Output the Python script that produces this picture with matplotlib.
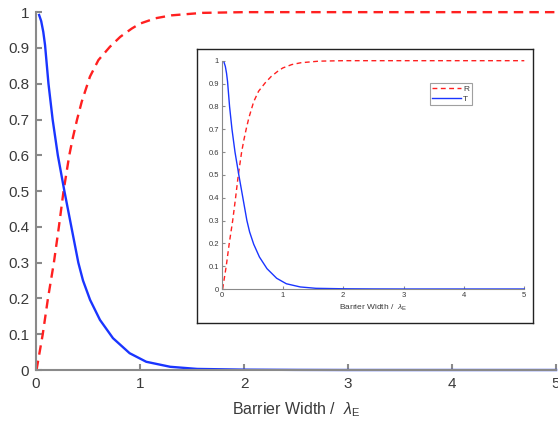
import matplotlib
matplotlib.use('Agg')
import matplotlib.pyplot as plt

plt.rcParams['font.family'] = ['Liberation Sans', 'DejaVu Sans']
plt.rcParams['mathtext.fontset'] = 'custom'
plt.rcParams['mathtext.rm'] = 'Liberation Sans'
plt.rcParams['mathtext.it'] = 'Liberation Sans:italic'

# transmission T vs barrier width (units of lambda_E)
x_T = [0.03, 0.05, 0.07, 0.087, 0.12, 0.16, 0.21, 0.273, 0.34, 0.407, 0.452, 0.52,
       0.615, 0.74, 0.9, 1.06, 1.29, 1.55, 2.0, 2.5, 3.0, 4.0, 5.0]
T = [0.992, 0.975, 0.945, 0.908, 0.80, 0.70, 0.60, 0.50, 0.40, 0.30, 0.25, 0.196,
     0.14, 0.089, 0.047, 0.023, 0.009, 0.003, 0.001, 0.0003, 0.0, 0.0, 0.0]

# reflection R
x_R = [0.005, 0.065, 0.115, 0.172, 0.22, 0.265, 0.32, 0.355, 0.395, 0.44, 0.519,
       0.6, 0.71, 0.81, 0.92, 1.0, 1.15, 1.3, 1.6, 2.0, 3.0, 4.0, 5.0]
R = [0.0, 0.10, 0.20, 0.30, 0.40, 0.50, 0.60, 0.65, 0.70, 0.75, 0.82,
     0.866, 0.903, 0.931, 0.954, 0.968, 0.983, 0.991, 0.998, 1.0, 1.0, 1.0, 1.0]

xticks = [0, 1, 2, 3, 4, 5]
yticks = [0, 0.1, 0.2, 0.3, 0.4, 0.5, 0.6, 0.7, 0.8, 0.9, 1]
ylabels = ['0', '0.1', '0.2', '0.3', '0.4', '0.5', '0.6', '0.7', '0.8', '0.9', '1']

red = '#ff2020'
blue = '#1a35ff'
spine_grey = '#8a8a8a'
txt = '#3a3a3a'
xlabel = 'Barrier Width /  $\\lambda_{\\mathrm{E}}$'


def style_axes(ax, fs, lw, ticklen, pad):
    for s in ['top', 'right']:
        ax.spines[s].set_visible(False)
    for s in ['left', 'bottom']:
        ax.spines[s].set_color(spine_grey)
        ax.spines[s].set_linewidth(lw)
    ax.set_xlim(0, 5)
    ax.set_ylim(0, 1)
    ax.set_xticks(xticks)
    ax.set_yticks(yticks)
    ax.set_yticklabels(ylabels)
    ax.tick_params(direction='in', length=ticklen, width=lw, color=spine_grey,
                   labelsize=fs, labelcolor=txt, pad=pad)


fig = plt.figure(figsize=(5.58, 4.25), dpi=100)

# main axes
ax = fig.add_axes([0.0645, 0.1294, 0.932, 0.842])
ax.plot(x_R, R, '--', color=red, lw=1.7, dashes=(4, 2.6), clip_on=False)
ax.plot(x_T, T, '-', color=blue, lw=1.7, clip_on=False)
style_axes(ax, 11, 1.5, 4, 5)
ax.set_xlabel(xlabel, fontsize=11.5, color=txt, labelpad=7)
ax.set_facecolor('none')

# inset frame
frame = fig.add_axes([0.3525, 0.2393, 0.6022, 0.6447])
frame.set_xticks([])
frame.set_yticks([])
for s in frame.spines.values():
    s.set_color('#222222')
    s.set_linewidth(1.0)
frame.set_facecolor('white')

# inset axes
ins = fig.add_axes([0.3984, 0.32, 0.5412, 0.5372])
ins.plot(x_R, R, '--', color=red, lw=1.0, dashes=(3.5, 2.5), label='R', clip_on=False)
ins.plot(x_T, T, '-', color=blue, lw=1.0, label='T', clip_on=False)
style_axes(ins, 5.5, 0.8, 2.5, 2.5)
ins.set_xlabel(xlabel, fontsize=6, color=txt, labelpad=2.5)
ins.set_facecolor('none')
leg = ins.legend(loc='upper left', bbox_to_anchor=(430 / 558, 1 - 83 / 425),
                 bbox_transform=fig.transFigure, fontsize=6, frameon=True,
                 fancybox=False, handlelength=3.4, handletextpad=0.3,
                 borderpad=0.3, labelspacing=0.2, borderaxespad=0)
leg.get_frame().set_edgecolor('#888888')
leg.get_frame().set_linewidth(0.8)
for t in leg.get_texts():
    t.set_color(txt)

fig.savefig('out.png', dpi=100)
